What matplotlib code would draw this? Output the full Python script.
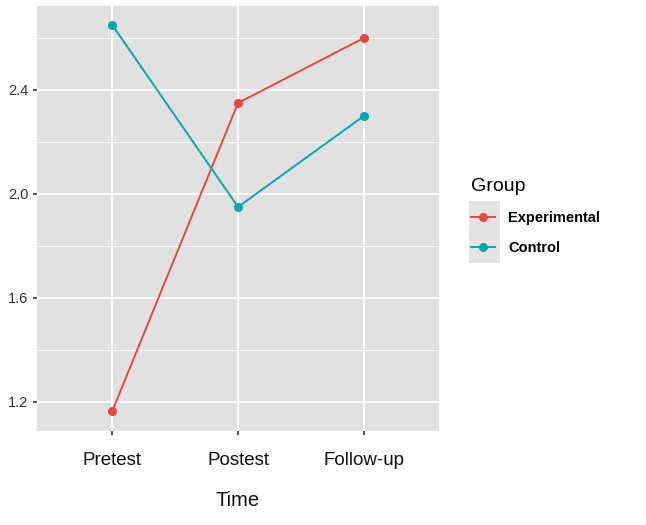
import numpy as np
import matplotlib
matplotlib.use('Agg')
import matplotlib.pyplot as plt
from matplotlib.patches import Rectangle

plt.rcParams['font.family'] = ['Liberation Sans', 'DejaVu Sans']

times = ['Pretest', 'Postest', 'Follow-up']
experimental = [1.165, 2.35, 2.60]
control = [2.65, 1.95, 2.30]
groups = ['Experimental', 'Control']
colors = ['#E5493E', '#00A9AD']
yticks = [1.2, 1.6, 2.0, 2.4]
yminor = [1.4, 1.8, 2.2, 2.6]

fig = plt.figure(figsize=(6.46, 5.25), dpi=100)
ax = fig.add_axes([0.057, 0.179, 0.623, 0.81])
ax.set_facecolor('#E1E1E1')

x = np.arange(1, len(times) + 1)
for vals, name, c in zip([experimental, control], groups, colors):
    ax.plot(x, vals, '-o', color=c, lw=1.4, ms=5.5, label=name, zorder=3)

ax.set_xlim(0.4, 3.6)
ax.set_ylim(1.088, 2.724)
ax.set_xticks(x)
ax.set_xticklabels(times, fontsize=13.5, color='#111111')
ax.set_yticks(yticks)
ax.set_yticklabels(['%.1f' % v for v in yticks], fontsize=10.5, color='#333333')
ax.set_yticks(yminor, minor=True)
ax.tick_params(axis='y', which='minor', length=0)
ax.tick_params(which='major', length=3, width=1.2, color='#333333', pad=3)
ax.tick_params(axis='x', pad=12)
ax.grid(True, which='major', color='white', lw=1.3)
ax.grid(True, which='minor', axis='y', color='white', lw=0.6)
ax.set_axisbelow(True)
for s in ax.spines.values():
    s.set_visible(False)
ax.set_xlabel('Time', fontsize=14.5, color='#111111', labelpad=16)

# grey legend key background (ggplot style)
ax.add_patch(Rectangle((469 / 646, 1 - 263 / 525), 31 / 646, 62 / 525,
                       transform=fig.transFigure, facecolor='#E4E4E4',
                       edgecolor='none', zorder=0, clip_on=False))
leg = ax.legend(title='Group', loc='upper left', bbox_to_anchor=(1.045, 0.627),
                frameon=False, title_fontsize=14,
                handlelength=1.7, handletextpad=0.9, labelspacing=1.12,
                prop={'weight': 'bold', 'size': 10.5})
leg._legend_box.align = 'left'
leg.set_zorder(5)

fig.savefig('out.png', dpi=100)
